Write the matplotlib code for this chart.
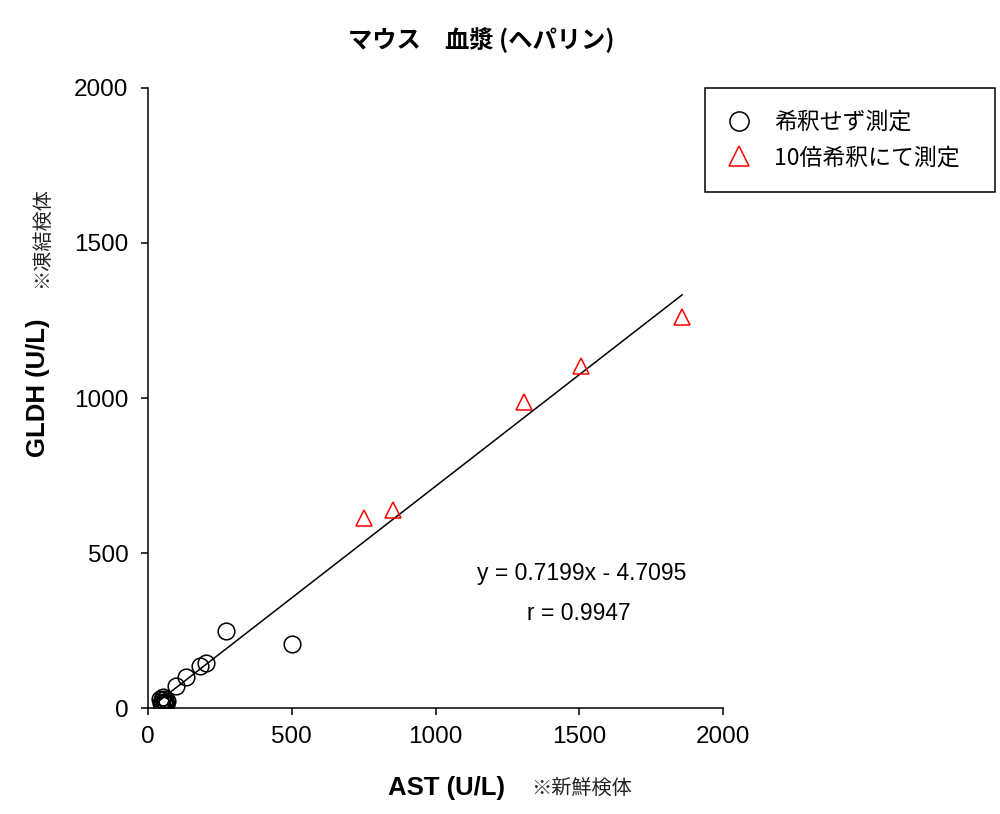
import matplotlib
matplotlib.use("Agg")
import matplotlib.pyplot as plt
import numpy as np

# ---- data ----
title = "マウス　血漿 (ヘパリン)"
xlabel = "AST (U/L)"
ylabel = "GLDH (U/L)"
x_note = "※新鮮検体"
y_note = "※凍結検体"
label_undiluted = "希釈せず測定"
label_diluted = "10倍希釈にて測定"

ast_undiluted = [45, 50, 55, 60, 48, 52, 58, 65, 42, 62, 97, 132, 181, 202, 271, 501]
gldh_undiluted = [15, 25, 20, 30, 10, 35, 18, 22, 28, 12, 71, 100, 135, 145, 248, 206]
ast_diluted = [752, 851, 1307, 1506, 1858]
gldh_diluted = [613, 638, 988, 1103, 1261]

slope = 0.7199
intercept = -4.7095
r_value = 0.9947

ticks = [0, 500, 1000, 1500, 2000]

# ---- figure ----
plt.rcParams['font.family'] = ['Liberation Sans', 'Noto Sans CJK JP', 'DejaVu Sans']
cjk = ['Noto Sans CJK JP', 'DejaVu Sans']
fig = plt.figure(figsize=(10, 8.14), dpi=100)
ax = fig.add_axes([0.148, 0.1302, 0.575, 0.7617])

all_x = np.array(ast_undiluted + ast_diluted, dtype=float)
xl = np.array([all_x.min(), all_x.max()])
ax.plot(xl, slope * xl + intercept, color='black', lw=1.1, zorder=1)

ax.plot(ast_undiluted, gldh_undiluted, 'o', ms=12, mfc='none', mec='black',
        mew=1.1, label=label_undiluted, zorder=2)
ax.plot(ast_diluted, gldh_diluted, '^', ms=12, mfc='none', mec='#ff0000',
        mew=1.1, label=label_diluted, zorder=2)

ax.set_xlim(0, 2000)
ax.set_ylim(0, 2000)
ax.set_xticks(ticks)
ax.set_yticks(ticks)
ax.spines['top'].set_visible(False)
ax.spines['right'].set_visible(False)
for s in ['left', 'bottom']:
    ax.spines[s].set_linewidth(1.1)
ax.tick_params(direction='out', length=5, width=1.1, labelsize=17.5)
ax.tick_params(axis='y', pad=9)
ax.tick_params(axis='x', pad=8)

ax.set_xlabel(xlabel, fontsize=18.5, fontweight='bold')
ax.xaxis.set_label_coords(0.52, -0.129)
ax.xaxis.label.set_va('center')
ax.set_ylabel(ylabel, fontsize=18.5, fontweight='bold')
ax.yaxis.set_label_coords(-0.191, 0.516)
ax.yaxis.label.set_va('center')

fig.text(0.582, 0.032, x_note, fontsize=14.5, ha='center', va='center',
         family=cjk, color='#222222')
fig.text(0.042, 0.708, y_note, fontsize=14.5, ha='center', va='center', rotation=90,
         family=cjk, color='#222222')

fig.text(0.481, 0.951, title, fontsize=17.5, fontweight='bold', ha='center', va='center',
         family=cjk)

ax.text((582 - 148) / 575, (708 - 573) / 620, f"y = {slope:.4f}x - {abs(intercept):.4f}",
        transform=ax.transAxes, fontsize=16.5, ha='center', va='center')
ax.text((579 - 148) / 575, (708 - 613) / 620, f"r = {r_value:.4f}", transform=ax.transAxes,
        fontsize=16.5, ha='center', va='center')

leg = fig.legend(loc='upper left', bbox_to_anchor=(0.705, 1 - 88 / 814, 0.29, 0.0),
                 mode='expand', frameon=True, fancybox=False, borderaxespad=0.0,
                 edgecolor='black', framealpha=1.0, handlelength=1.0, handletextpad=1.0,
                 borderpad=1.0, labelspacing=0.55, markerscale=1.15,
                 prop={'family': cjk, 'size': 16.5})
leg.get_frame().set_linewidth(1.1)

fig.savefig("out.png", dpi=100, facecolor='white')
